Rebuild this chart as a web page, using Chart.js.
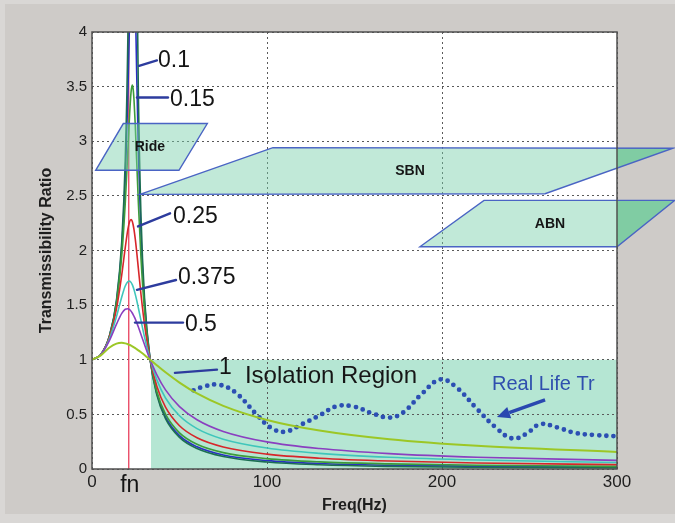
<!DOCTYPE html>
<html>
<head>
<meta charset="utf-8">
<script src="https://cdn.jsdelivr.net/npm/chart.js@4.4.1/dist/chart.umd.min.js"></script>
<style>
html,body{margin:0;padding:0;background:#cecbc8;}
canvas{display:block;}
</style>
</head>
<body>
<canvas id="c" width="675" height="523"></canvas>
<script>
// ---- Data ----
const freqHz = [0, 5, 10, 14, 17, 19, 20.5, 21.5, 22.3, 23, 23.5, 24, 24.7, 25.5, 26.5, 28, 30, 33.2, 37, 42, 50, 60, 75, 100, 130, 170, 220, 300];
const tr005  = [1, 1.047, 1.221, 1.546, 2.080, 2.821, 3.945, 5.37, 7.3, 9.43, 10.05, 9.07, 6.77, 4.83, 3.42, 2.309, 1.569, 1.004, 0.681, 0.461, 0.289, 0.187, 0.114, 0.064, 0.039, 0.024, 0.016, 0.010];
const tr010  = [1, 1.047, 1.219, 1.535, 2.029, 2.651, 3.430, 4.149, 4.750, 5.089, 5.099, 4.890, 4.351, 3.650, 2.903, 2.130, 1.519, 1.004, 0.693, 0.478, 0.306, 0.203, 0.129, 0.077, 0.050, 0.034, 0.025, 0.017];
const tr015  = [1, 1.047, 1.216, 1.518, 1.954, 2.434, 2.917, 3.249, 3.448, 3.514, 3.480, 3.380, 3.156, 2.836, 2.433, 1.927, 1.453, 1.003, 0.712, 0.502, 0.331, 0.226, 0.150, 0.095, 0.065, 0.047, 0.034, 0.024];
const tr025  = [1, 1.047, 1.208, 1.468, 1.777, 2.026, 2.194, 2.265, 2.283, 2.267, 2.236, 2.191, 2.108, 1.993, 1.834, 1.597, 1.323, 1.003, 0.760, 0.566, 0.396, 0.286, 0.202, 0.136, 0.099, 0.073, 0.055, 0.040];
const tr0375 = [1, 1.046, 1.194, 1.396, 1.575, 1.675, 1.716, 1.720, 1.708, 1.687, 1.667, 1.642, 1.601, 1.548, 1.474, 1.358, 1.208, 1.002, 0.818, 0.650, 0.487, 0.370, 0.273, 0.192, 0.143, 0.107, 0.082, 0.059];
const tr050  = [1, 1.045, 1.178, 1.326, 1.425, 1.462, 1.467, 1.459, 1.445, 1.428, 1.414, 1.398, 1.374, 1.342, 1.299, 1.231, 1.139, 1.001, 0.864, 0.724, 0.571, 0.451, 0.344, 0.248, 0.187, 0.141, 0.108, 0.079];
const tr100  = [1, 1.040, 1.112, 1.148, 1.155, 1.150, 1.142, 1.135, 1.129, 1.123, 1.118, 1.113, 1.106, 1.097, 1.086, 1.068, 1.043, 1.000, 0.950, 0.885, 0.791, 0.692, 0.578, 0.449, 0.352, 0.272, 0.212, 0.156];

const realFreq = [58, 65, 73, 82, 94, 102, 110, 120, 130, 140, 150, 160, 170, 178, 188, 199, 208, 220, 230, 240, 248, 256, 266, 276, 288, 300];
const realTr   = [0.72, 0.76, 0.77, 0.70, 0.50, 0.38, 0.34, 0.41, 0.49, 0.575, 0.57, 0.51, 0.47, 0.52, 0.68, 0.82, 0.75, 0.55, 0.39, 0.28, 0.32, 0.41, 0.38, 0.33, 0.31, 0.30];

const fnLineX = [21, 21];
const fnLineY = [0, 4];
const isolationX = [33.7, 300];
const isolationY = [0, 1];

const xTickValues = [0, 100, 200, 300];
const xTickLabels = ['0', '100', '200', '300'];
const yTickValues = [0, 0.5, 1, 1.5, 2, 2.5, 3, 3.5, 4];
const yTickLabels = ['0', '0.5', '1', '1.5', '2', '2.5', '3', '3.5', '4'];

// Zone parallelograms (data coordinates)
const rideX = [2.1, 17.9, 65.9, 49.7];
const rideY = [2.734, 3.162, 3.162, 2.734];
const sbnX  = [27.4, 103.4, 332, 258.9];
const sbnY  = [2.514, 2.942, 2.936, 2.52];
const abnX  = [187.4, 224, 333, 300];
const abnY  = [2.034, 2.459, 2.459, 2.034];

// Damping labels: text, text position, leader line
const dampLabels = ['0.1', '0.15', '0.25', '0.375', '0.5', '1'];
const dampLabelX = [37.7, 44.6, 46.3, 49.1, 53.1, 72.6];
const dampLabelY = [3.74, 3.385, 2.312, 1.752, 1.321, 0.927];
const leaderX0 = [26.9, 25.7, 26.3, 25.7, 24.6, 47.4];
const leaderY0 = [3.69, 3.40, 2.22, 1.64, 1.34, 0.88];
const leaderX1 = [37.1, 43.4, 44.6, 48.0, 52.0, 71.4];
const leaderY1 = [3.74, 3.40, 2.34, 1.73, 1.34, 0.91];

const zoneLabels = ['Ride', 'SBN', 'ABN'];
const zoneLabelX = [33.1, 181.7, 261.7];
const zoneLabelY = [2.945, 2.725, 2.239];

const isoText = 'Isolation Region';
const isoTextX = 87.4, isoTextY = 0.844;
const realText = 'Real Life Tr';
const realTextX = 228.6, realTextY = 0.771;
const arrowX = [258.9, 231.4];
const arrowY = [0.633, 0.477];

// ---- Build datasets ----
const pts = (xs, ys) => xs.map((x, i) => ({x: x, y: ys[i]}));
const curve = (ys, color, w) => ({
  data: pts(freqHz, ys), borderColor: color, borderWidth: w || 1.6,
  pointRadius: 0, fill: false, cubicInterpolationMode: 'monotone'
});

const datasets = [
  curve(tr100, '#9cc726', 2),
  curve(tr050, '#8a3fc0'),
  curve(tr0375, '#3fc6bb'),
  curve(tr025, '#d7262a'),
  curve(tr015, '#3d9b3a'),
  curve(tr005, '#1c6e52'),
  curve(tr010, '#2a2fc4'),
  { data: pts(fnLineX, fnLineY), borderColor: '#e8405c', borderWidth: 1.3, pointRadius: 0, fill: false },
  { data: pts(realFreq, realTr), borderColor: '#2c4fb3', borderWidth: 4.8, borderDash: [0, 7.2],
    borderCapStyle: 'round', pointRadius: 0, fill: false, tension: 0.4 }
];

// ---- Plugin for backgrounds, zones and annotations ----
const deco = {
  id: 'deco',
  beforeDraw(chart) {
    const {ctx, chartArea: a, scales: {x, y}} = chart;
    ctx.save();
    ctx.fillStyle = '#d9d7d5';
    ctx.fillRect(0, 0, chart.width, chart.height);
    ctx.fillStyle = '#cecbc8';
    ctx.fillRect(5, 4, chart.width - 5, 510);
    ctx.fillStyle = '#ffffff';
    ctx.fillRect(a.left, a.top, a.right - a.left, a.bottom - a.top);
    const x0 = x.getPixelForValue(isolationX[0]), x1 = x.getPixelForValue(isolationX[1]);
    const y0 = y.getPixelForValue(isolationY[0]), y1 = y.getPixelForValue(isolationY[1]);
    ctx.fillStyle = '#b5e6d3';
    ctx.fillRect(x0, y1, x1 - x0, y0 - y1);
    ctx.restore();
  },
  afterDatasetsDraw(chart) {
    const {ctx, chartArea: a, scales: {x, y}} = chart;
    const W = chart.width, H = chart.height;
    const path = (xs, ys) => {
      ctx.beginPath();
      xs.forEach((v, i) => {
        const px = x.getPixelForValue(v), py = y.getPixelForValue(ys[i]);
        if (i) ctx.lineTo(px, py); else ctx.moveTo(px, py);
      });
      ctx.closePath();
    };
    const shapes = [[rideX, rideY], [sbnX, sbnY], [abnX, abnY]];
    shapes.forEach(([xs, ys]) => {
      ctx.save();
      ctx.beginPath(); ctx.rect(a.left, a.top, a.right - a.left, a.bottom - a.top); ctx.clip();
      path(xs, ys); ctx.fillStyle = 'rgba(118,206,168,0.45)'; ctx.fill();
      ctx.restore();
      ctx.save();
      ctx.beginPath(); ctx.rect(0, 0, W, H); ctx.rect(a.left, a.top, a.right - a.left, a.bottom - a.top);
      ctx.clip('evenodd');
      path(xs, ys); ctx.fillStyle = '#80cca3'; ctx.fill();
      ctx.restore();
      ctx.save();
      path(xs, ys); ctx.strokeStyle = '#4a64c4'; ctx.lineWidth = 1.4; ctx.stroke();
      ctx.restore();
    });

    ctx.save();
    ctx.strokeStyle = '#505050'; ctx.lineWidth = 1.5;
    ctx.strokeRect(a.left, a.top, a.right - a.left, a.bottom - a.top);

    ctx.fillStyle = '#161616'; ctx.font = 'bold 14px "Liberation Sans", Arial, sans-serif';
    ctx.textAlign = 'center'; ctx.textBaseline = 'middle';
    zoneLabels.forEach((t, i) => ctx.fillText(t, x.getPixelForValue(zoneLabelX[i]), y.getPixelForValue(zoneLabelY[i])));

    ctx.strokeStyle = '#2d3c9e'; ctx.lineWidth = 2.4; ctx.lineCap = 'round';
    dampLabels.forEach((t, i) => {
      ctx.beginPath();
      ctx.moveTo(x.getPixelForValue(leaderX0[i]), y.getPixelForValue(leaderY0[i]));
      ctx.lineTo(x.getPixelForValue(leaderX1[i]), y.getPixelForValue(leaderY1[i]));
      ctx.stroke();
    });
    ctx.fillStyle = '#141414'; ctx.font = '23px "Liberation Sans", Arial, sans-serif';
    ctx.textAlign = 'left';
    dampLabels.forEach((t, i) => ctx.fillText(t, x.getPixelForValue(dampLabelX[i]), y.getPixelForValue(dampLabelY[i])));

    ctx.font = '24px "Liberation Sans", Arial, sans-serif';
    ctx.fillStyle = '#161616';
    ctx.fillText(isoText, x.getPixelForValue(isoTextX), y.getPixelForValue(isoTextY));

    ctx.font = '20px "Liberation Sans", Arial, sans-serif';
    ctx.fillStyle = '#2f4fae';
    ctx.fillText(realText, x.getPixelForValue(realTextX), y.getPixelForValue(realTextY));

    const ax0 = x.getPixelForValue(arrowX[0]), ay0 = y.getPixelForValue(arrowY[0]);
    const ax1 = x.getPixelForValue(arrowX[1]), ay1 = y.getPixelForValue(arrowY[1]);
    const ang = Math.atan2(ay1 - ay0, ax1 - ax0);
    const hl = 13, hw = 6;
    const bx = ax1 - hl * Math.cos(ang), by = ay1 - hl * Math.sin(ang);
    ctx.strokeStyle = '#2a48b0'; ctx.lineWidth = 3.5; ctx.lineCap = 'butt';
    ctx.beginPath(); ctx.moveTo(ax0, ay0); ctx.lineTo(bx, by); ctx.stroke();
    ctx.fillStyle = '#2a48b0';
    ctx.beginPath();
    ctx.moveTo(ax1, ay1);
    ctx.lineTo(bx + hw * Math.sin(ang), by - hw * Math.cos(ang));
    ctx.lineTo(bx - hw * Math.sin(ang), by + hw * Math.cos(ang));
    ctx.closePath(); ctx.fill();

    ctx.fillStyle = '#141414'; ctx.font = '23px "Liberation Sans", Arial, sans-serif';
    ctx.textAlign = 'center'; ctx.textBaseline = 'alphabetic';
    ctx.fillText('fn', x.getPixelForValue(fnLineX[0]) + 1, a.bottom + 23);
    ctx.restore();
  }
};

new Chart(document.getElementById('c'), {
  type: 'line',
  data: { datasets: datasets },
  options: {
    responsive: false,
    animation: false,
    events: [],
    layout: { padding: { left: 0, right: 58, top: 32, bottom: 0 } },
    plugins: { legend: { display: false }, tooltip: { enabled: false } },
    scales: {
      x: {
        type: 'linear', min: 0, max: 300,
        afterBuildTicks: s => { s.ticks = xTickValues.map(v => ({value: v})); },
        afterFit: s => { s.height = 54; },
        ticks: { color: '#1e1e1e', padding: 3, callback: (v, i) => xTickLabels[i],
          font: { size: 17, family: '"Liberation Sans", Arial, sans-serif' } },
        grid: { color: '#5a5a5a', lineWidth: 1, drawTicks: false },
        border: { display: false, dash: [2, 3] },
        title: { display: true, text: 'Freq(Hz)', color: '#1e1e1e',
          font: { size: 16, weight: 'bold', family: '"Liberation Sans", Arial, sans-serif' },
          padding: { top: 0, bottom: 8 } }
      },
      y: {
        type: 'linear', min: 0, max: 4,
        afterBuildTicks: s => { s.ticks = yTickValues.map(v => ({value: v})); },
        afterFit: s => { s.width = 92; },
        ticks: { color: '#1e1e1e', padding: 5, callback: (v, i) => yTickLabels[i],
          font: { size: 15, family: '"Liberation Sans", Arial, sans-serif' } },
        grid: { color: '#5a5a5a', lineWidth: 1, drawTicks: false },
        border: { display: false, dash: [2, 3] },
        title: { display: true, text: 'Transmissibility Ratio', color: '#1e1e1e',
          font: { size: 16, weight: 'bold', family: '"Liberation Sans", Arial, sans-serif' },
          padding: { top: 37, bottom: 0 } }
      }
    }
  },
  plugins: [deco]
});
</script>
</body>
</html>
